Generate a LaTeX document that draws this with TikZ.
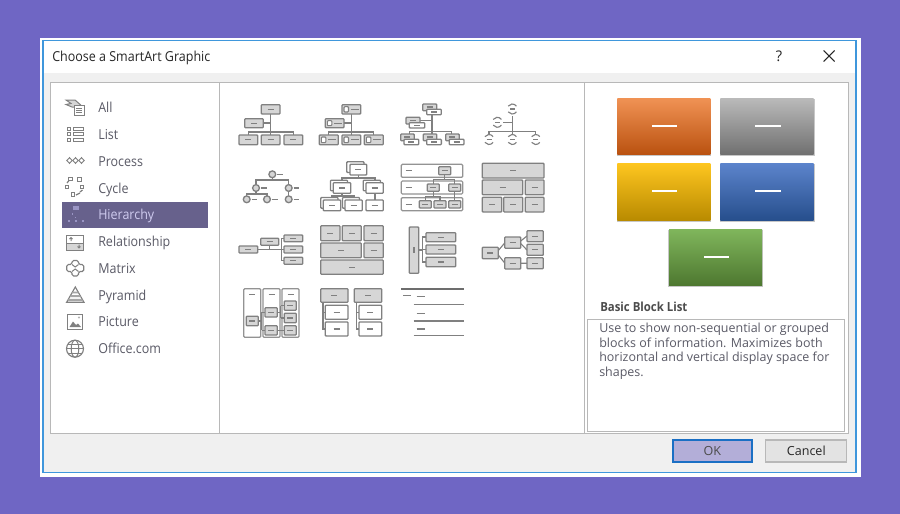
\documentclass[tikz,border=0pt]{standalone}
\usepackage{fontspec}
\setmainfont{Open Sans}
\newfontfamily\narrowf[FakeStretch=0.91]{Open Sans}
\definecolor{bgp}{HTML}{6F66C4}
\definecolor{blu}{HTML}{3F97DC}
\definecolor{pane}{HTML}{F0F0F0}
\definecolor{edge}{HTML}{B8B8B8}
\definecolor{txt}{HTML}{5A5A66}
\definecolor{ic}{HTML}{808080}
\definecolor{gf}{HTML}{D6D6D6}
\definecolor{hl}{HTML}{67618C}
\definecolor{hlt}{HTML}{CFCBEF}
\definecolor{hli}{HTML}{9A95C4}
\definecolor{oka}{HTML}{B3AED8}
\definecolor{okb}{HTML}{1A6FC4}
\definecolor{ora}{HTML}{F09254}\definecolor{orb}{HTML}{E06C22}\definecolor{orc}{HTML}{BA5210}
\definecolor{gra}{HTML}{BABABA}\definecolor{grc}{HTML}{707070}
\definecolor{yea}{HTML}{FEC620}\definecolor{yeb}{HTML}{E0AA0E}\definecolor{yec}{HTML}{B88A00}
\definecolor{bla}{HTML}{5C84CC}\definecolor{blb}{HTML}{3C66AA}\definecolor{blc}{HTML}{264E8C}
\definecolor{gna}{HTML}{80B65C}\definecolor{gnb}{HTML}{669844}\definecolor{gnc}{HTML}{4E7830}
\tikzset{
 listlabel/.style={anchor=base west,inner sep=0pt,font=\narrowf\fontsize{10.3pt}{12pt}\selectfont,text=txt},
 desc/.style={anchor=base west,inner sep=0pt,font=\fontsize{9.35pt}{11pt}\selectfont,text=txt},
 graybox/.style={draw=ic,fill=gf,line width=1pt,rounded corners=0.6pt},
 whitebox/.style={draw=ic,fill=white,line width=1pt,rounded corners=0.6pt},
 bandbox/.style={draw=ic!85,fill=white,line width=0.9pt,rounded corners=0.8pt},
 conn/.style={draw=ic,line width=0.85pt},
 dashmark/.style={draw=ic,line width=0.85pt},
 icon/.style={draw=ic,line width=0.75pt},
}
\newcommand{\dmk}[2]{\draw[dashmark] ({#1-3},{#2}) -- ({#1+3},{#2});}
\newcommand{\gbx}[4]{\draw[graybox] (#1,#2) rectangle (#3,#4); \dmk{(#1+#3)/2}{(#2+#4)/2}}
\newcommand{\wbx}[4]{\draw[whitebox] (#1,#2) rectangle (#3,#4); \dmk{(#1+#3)/2}{(#2+#4)/2}}
\newcommand{\gpx}[4]{\draw[graybox] (#1,#2) rectangle (#3,#4);}
\newcommand{\wpx}[4]{\draw[whitebox] (#1,#2) rectangle (#3,#4);}
\newcommand{\sbx}[4]{\draw[graybox] (#1,#2) rectangle (#3,#4);
 \draw[whitebox,line width=0.8pt] ({#1+2},{#2+2}) rectangle ({#1+6.5},{#4-2});
 \draw[dashmark] ({#1+9},{(#2+#4)/2}) -- ({#3-2},{(#2+#4)/2});}
\newcommand{\cdk}[2]{\draw[graybox] (#1,#2) circle (3.4); \draw[dashmark] ({#1+5},#2) -- ({#1+10.5},#2);}
\newcommand{\ack}[2]{\draw[conn] ({#1+5*cos(35)},{#2-5*sin(35)}) arc[start angle=-35,end angle=-145,radius=5];
 \draw[conn] ({#1+5*cos(35)},{#2+5*sin(35)}) arc[start angle=35,end angle=145,radius=5];
 \draw[dashmark] ({#1-2.5},#2) -- ({#1+2.5},#2);}
\begin{document}
\begin{tikzpicture}[x=0.75pt,y=-0.75pt]
\useasboundingbox (0,0) rectangle (900,514);
\fill[bgp] (0,0) rectangle (900,514);
% window
\fill[white] (40,38) rectangle (861,477);
\draw[blu,line width=1pt] (43,40.5) rectangle (856,472.5);
\fill[pane] (44,73) rectangle (855,472);
\fill[white] (50,82) rectangle (848,433);
\draw[edge,line width=0.75pt] (50,82) rectangle (848,433);
\draw[edge,line width=0.75pt] (219,82) -- (219,433);
\draw[edge,line width=0.75pt] (584,82) -- (584,433);
\node[anchor=base west,inner sep=0pt,font=\narrowf\fontsize{10.3pt}{12pt}\selectfont,text=black!85] (title) at (52,61) {Choose a SmartArt Graphic};
\node[inner sep=0pt,font=\fontsize{11pt}{12pt}\selectfont,text=black!85] (help) at (779,56) {?};
\draw[black!85,line width=0.8pt] (823.5,50.5) -- (834.5,61.5) (834.5,50.5) -- (823.5,61.5);
% highlight
\fill[hl] (62,202) rectangle (208,228);
% list
\node[listlabel] (l1) at (98,112.3) {All};
\node[listlabel] (l2) at (98,139.2) {List};
\node[listlabel] (l3) at (98,166.1) {Process};
\node[listlabel] (l4) at (98,193) {Cycle};
\node[listlabel,text=hlt] (l5) at (98,219.8) {Hierarchy};
\node[listlabel] (l6) at (98,246.4) {Relationship};
\node[listlabel] (l7) at (98,273.3) {Matrix};
\node[listlabel] (l8) at (98,300.1) {Pyramid};
\node[listlabel] (l9) at (98,326.9) {Picture};
\node[listlabel] (l10) at (98,353.8) {Office.com};
% list icons
\draw[icon,fill=gf] (66,100) -- (75,100) -- (83,107) -- (72,107) -- (66,104.5) -- (71,103.5) -- cycle;
\draw[icon,fill=white] (74,105) rectangle (84,115);
\draw[icon] (76,108) -- (82,108) (76,110) -- (82,110) (76,112.5) -- (82,112.5);
\foreach \yy in {127,132.5,138}{\draw[icon] (67,\yy) rectangle (70,{\yy+3}); \draw[icon] (73,\yy) rectangle (83.5,{\yy+3});}
\foreach \xx in {69.5,75.5,81.5}{\draw[icon] (\xx,157.7) -- ({\xx+2.7},160.5) -- (\xx,163.3) -- ({\xx-2.7},160.5) -- cycle;}
\foreach \xx/\yy in {70.5/179,79.5/179.5,82/187,73/194.5,67/187}{\draw[icon] ({\xx-1.6},{\yy-1.6}) rectangle ({\xx+1.6},{\yy+1.6});}
\draw[icon,line width=0.9pt] (67,183) -- (69,180.5) (80,192) -- (82.5,190) (76,195) -- (80,193);
\fill[hli] (72.5,206) rectangle (78.5,210);
\foreach \xx in {68,75,82}{\fill[hli] (\xx,220) rectangle ({\xx+1.8},222);}
\fill[hli] (71.5,213) rectangle (73,215);\fill[hli] (74.5,216.5) rectangle (76,218);
\fill[gf] (66.7,243) rectangle (83.3,250);
\draw[icon] (66.7,235) rectangle (83.3,250);
\draw[icon] (66.7,243) -- (83.3,243);
\draw[icon] (71,241) -- (71,237.5) (69.5,239) -- (71,237.5) -- (72.5,239);
\draw[icon] (79,244.5) -- (79,248) (77.5,246.5) -- (79,248) -- (80.5,246.5);
\draw[icon,rounded corners=1.2pt,line width=0.85pt] (72,260.5) -- (78.5,260.5) -- (78.5,264.5) -- (83.8,264.5) -- (83.8,271.5) -- (78.5,271.5) -- (78.5,276) -- (72,276) -- (72,271.5) -- (66.8,271.5) -- (66.8,264.5) -- (72,264.5) -- cycle;
\draw[icon] (72,264.5) -- (75.2,267) -- (78.5,264.5) (72,271.5) -- (75.2,269) -- (78.5,271.5);
\draw[icon,line width=0.85pt] (75.3,287) -- (84,302.3) -- (66.6,302.3) -- cycle;
\fill[ic!70] (72.8,291.5) -- (77.8,291.5) -- (78.9,293.4) -- (71.7,293.4) -- cycle;
\fill[ic!70] (70.8,295.2) -- (79.8,295.2) -- (80.9,297.1) -- (69.7,297.1) -- cycle;
\fill[ic!70] (68.7,298.9) -- (81.9,298.9) -- (83,300.8) -- (67.6,300.8) -- cycle;
\draw[icon] (67.3,314.3) rectangle (82.7,329);
\fill[ic] (69.5,327) -- (73,321.5) -- (76,325) -- (78,323.5) -- (81,327) -- cycle;
\fill[ic!60] (79,317.5) circle (1.1);
\draw[icon,line width=0.85pt] (75,348.7) circle (8.5);
\draw[icon] (75,348.7) ellipse (3.8 and 8.5);
\draw[icon] (66.5,348.7) -- (83.5,348.7) (68,344) -- (82,344) (68,353.4) -- (82,353.4);
% --- row 1 ---
\draw[conn] (270.7,114) -- (270.7,135) (263.3,123) -- (270.7,123) (248.3,135) -- (248.3,132) -- (293.3,132) -- (293.3,135);
\gbx{261.3}{104.7}{280}{114}\gbx{244.7}{118.7}{263.3}{127.7}\gbx{239}{135}{257.7}{144.7}\gbx{261.3}{135}{280}{144.7}\gbx{284}{135}{302.7}{144.7}
\draw[conn] (351.3,114) -- (351.3,135) (344,123) -- (351.3,123) (328.8,135) -- (328.8,132) -- (373.8,132) -- (373.8,135);
\sbx{342}{104.7}{360.7}{114}\sbx{325.3}{118.7}{344}{127.7}\sbx{319.3}{135}{338.3}{144.7}\sbx{342}{135}{360.7}{144.7}\sbx{364.3}{135}{383.3}{144.7}
\draw[conn] (432,114.7) -- (432,134) (420,120.7) -- (432,120.7) (409.3,134) -- (409.3,131.3) -- (451.3,131.3) -- (451.3,134);
\foreach \pa/\pb in {400.7/404,423.3/426.7,445.7/449.3}{
 \gpx{\pa}{134}{\pa+13.5}{140.7}\wpx{\pb}{139.3}{\pb+14.7}{144.7}\dmk{\pa+6.5}{137}\dmk{\pb+7.3}{142}}
\gpx{422.7}{104}{436.7}{110.7}\wpx{426.7}{109.3}{441.3}{114.7}\dmk{429.7}{107}\dmk{434}{112}
\gpx{406}{117.3}{420}{124}\wpx{409.3}{122.7}{424.7}{128}\dmk{413}{120.5}\dmk{417}{125.3}
\draw[conn] (512.3,116) -- (512.3,134) (503,122.3) -- (512.3,122.3) (489,134) -- (489,131.3) -- (535.7,131.3) -- (535.7,134);
\ack{512.3}{109}\ack{497.3}{122.3}\ack{489}{139.5}\ack{512.3}{139.5}\ack{535.7}{139.5}
% --- row 2 ---
\draw[conn] (272.3,174.3) -- (272.3,180) (256,188) -- (256,180) -- (288.7,180) -- (288.7,199.3) (256,188) -- (256,194) (246.7,199.3) -- (246.7,194) -- (267,194) -- (267,199.3);
\cdk{272.3}{174.3}\cdk{256}{188}\cdk{288.7}{188}\cdk{246.7}{199.3}\cdk{267}{199.3}\cdk{288.7}{199.3}
\draw[conn] (358.5,175) -- (358.5,178) (342,182.7) -- (342,178) -- (375,178) -- (375,200) (332,200) -- (332,196) -- (354,196) -- (354,200) (342,193.3) -- (342,196);
\wpx{346.8}{161.8}{364}{172.5}\wbx{350}{164.3}{366.7}{175}
\wpx{330.5}{180.2}{347.5}{190.8}\wbx{333.3}{182.7}{350.7}{193.3}
\wpx{363.3}{180.2}{380.5}{190.8}\wbx{366}{182.7}{383.3}{193.3}
\wpx{320.8}{197.5}{338}{208.2}\wbx{323.3}{200}{340.7}{210.7}
\wpx{342.5}{197.5}{359.5}{208.2}\wbx{345}{200}{362.3}{210.7}
\wbx{366}{200}{383.3}{210.7}
\foreach \pt/\pu in {164.3/177.3,181/194,197.7/210.7}{\draw[bandbox] (401.3,\pt) rectangle (462.7,\pu); \dmk{408.5}{(\pt+\pu)/2}}
\draw[conn] (444.7,174.7) -- (444.7,179.5) (433.3,184) -- (433.3,179.5) -- (454.7,179.5) -- (454.7,200.7) (433.3,191.3) -- (433.3,196.5) (425.3,200.7) -- (425.3,196.5) -- (440,196.5) -- (440,200.7);
\gbx{438.7}{166.7}{450.7}{174.7}\gbx{427.3}{184}{439.3}{191.3}\gbx{448.7}{184}{460.7}{191.3}\gbx{419.3}{200.7}{431.3}{208}\gbx{434}{200.7}{446}{208}\gbx{448.7}{200.7}{460.7}{208}
\gbx{482.3}{163.3}{544}{178}\gbx{482.3}{180}{522.7}{194.7}\gbx{525.3}{180}{544}{194.7}\gbx{482.3}{197.3}{501.7}{212}\gbx{503.7}{197.3}{522.7}{212}\gbx{525.3}{197.3}{544}{212}
% --- row 3 ---
\draw[conn] (257.7,249.5) -- (281.7,249.5) (269.7,245.3) -- (269.7,249.5) (284,238.3) -- (281.7,238.3) -- (281.7,260.8) -- (284,260.8) (281.7,249.5) -- (284,249.5);
\gbx{239}{246}{257.7}{253}\gbx{260.7}{238.3}{278.7}{245.3}\gbx{284}{235}{302.7}{241.7}\gbx{284}{246}{302.7}{253}\gbx{284}{257.3}{302.7}{264.3}
\gbx{320.7}{225.7}{340}{240.7}\gbx{342.3}{225.7}{361.3}{240.7}\gbx{364}{225.7}{383.3}{240.7}\gbx{320.7}{243}{361.3}{257.7}\gbx{364}{243}{383.3}{257.7}\gbx{320.7}{260}{383.3}{274.3}
\foreach \pa in {243.7,263,282}{\draw[bandbox] (\pa,288.7) rectangle ({\pa+17},337.3); \dmk{\pa+8.5}{294.5}}
\draw[conn] (258.3,321) -- (261.5,321) (261.5,312.3) -- (261.5,330.3) (261.5,312.3) -- (265,312.3) (261.5,330.3) -- (265,330.3) (277.3,312.3) -- (280.8,312.3) (280.8,305.7) -- (280.8,318) (280.8,305.7) -- (284.3,305.7) (280.8,318) -- (284.3,318) (277.3,330.3) -- (284.3,330.3);
\gbx{246.3}{316.3}{258.3}{325.7}\gbx{265}{307.7}{277.3}{317}\gbx{265}{325.7}{277.3}{335}\gbx{284.3}{301}{296.3}{310.3}\gbx{284.3}{313.3}{296.3}{322.7}\gbx{284.3}{325.7}{296.3}{335}
\draw[conn] (323,302.3) -- (323,329) -- (325.3,329) (323,312.3) -- (325.3,312.3) (356.7,302.3) -- (356.7,329) -- (359,329) (356.7,312.3) -- (359,312.3);
\gbx{320.7}{288.7}{348}{302.3}\gbx{354.3}{288.7}{381.7}{302.3}\wbx{325.3}{305.3}{348}{319.3}\wbx{325.3}{322}{348}{336}\wbx{359}{305.3}{381.7}{319.3}\wbx{359}{322}{381.7}{336}
\draw[conn] (418.7,250) -- (422.7,250) (426,237) -- (422.7,237) -- (422.7,262) -- (426,262) (422.7,249.5) -- (426,249.5);
\gpx{409.3}{227}{418.7}{273.3}\draw[dashmark] (414,247) -- (414,253);
\gbx{426}{232.7}{455.7}{241.7}\gbx{426}{245}{455.7}{254}\gbx{426}{257.3}{455.7}{266.7}
\draw[conn] (498.3,250.5) -- (504.7,243) (498.3,255) -- (504.7,263) (520.7,241) -- (527,236) (520.7,243.5) -- (527,250) (520.7,263.3) -- (527,263.3);
\gbx{482.3}{247.3}{498.3}{258.7}\gbx{504.7}{237}{520.7}{248.3}\gbx{504.7}{257.7}{520.7}{269}\gbx{527}{230.7}{543.3}{241.7}\gbx{527}{244.3}{543.3}{255.3}\gbx{527}{257.7}{543.3}{268.7}
\draw[ic!85!black,line width=1.1pt] (401.3,289) -- (464,289);
\draw[ic,line width=0.85pt] (413.7,304.3) -- (464,304.3) (413.7,321) -- (464,321) (413.7,335.7) -- (464,335.7);
\draw[dashmark] (403.3,295.3) -- (410.7,295.3) (416.7,296.7) -- (424.7,296.7) (416.7,313.3) -- (424.7,313.3) (416.7,329) -- (424.7,329);
% preview
\foreach \xa/\ya/\xb/\yb in {617.3/98.3/710.3/154.3,720.3/98.3/813.7/154.3,617.3/163/710.3/220.7,720.3/163/813.7/220.7,669/229/762/285.3}
 {\fill[black!22] ({\xa-0.7},{\ya+0.5}) rectangle ({\xb+1},{\yb+1.5});}
\shade[top color=ora,middle color=orb,bottom color=orc] (617.3,98.3) rectangle (710.3,154.3);
\shade[top color=gra,bottom color=grc] (720.3,98.3) rectangle (813.7,154.3);
\shade[top color=yea,middle color=yeb,bottom color=yec] (617.3,163) rectangle (710.3,220.7);
\shade[top color=bla,middle color=blb,bottom color=blc] (720.3,163) rectangle (813.7,220.7);
\shade[top color=gna,middle color=gnb,bottom color=gnc] (669,229) rectangle (762,285.3);
\foreach \xa/\yy in {652/126,755.3/126,652/191,755.3/191,703.5/257}
 {\fill[white] (\xa,{\yy-1.2}) rectangle ({\xa+25.3},{\yy+1.2});}
% description
\node[anchor=base west,inner sep=0pt,font=\narrowf\fontsize{9.4pt}{11pt}\selectfont\bfseries,text=black!70] (dtitle) at (600,311) {Basic Block List};
\draw[edge,line width=0.75pt,fill=white] (587.5,319) rectangle (844.5,431);
\node[desc] (d1) at (599,332) {Use to show non-sequential or grouped};
\node[desc] (d2) at (599,347) {blocks of information. Maximizes both};
\node[desc] (d3) at (599,361.5) {horizontal and vertical display space for};
\node[desc] (d4) at (599,376) {shapes.};
% buttons
\node[draw=okb,line width=1.3pt,fill=oka,minimum width=59.25pt,minimum height=16.1pt,inner sep=0pt,font=\fontsize{9.4pt}{11pt}\selectfont,text=black!70] (ok) at (712.3,451) {\raisebox{-0.7pt}{OK}};
\node[draw=edge,line width=0.9pt,fill=black!11,minimum width=60.75pt,minimum height=16.5pt,inner sep=0pt,font=\fontsize{9.4pt}{11pt}\selectfont,text=black!85] (cancel) at (806.3,451) {\raisebox{-0.7pt}{Cancel}};
\end{tikzpicture}
\end{document}
